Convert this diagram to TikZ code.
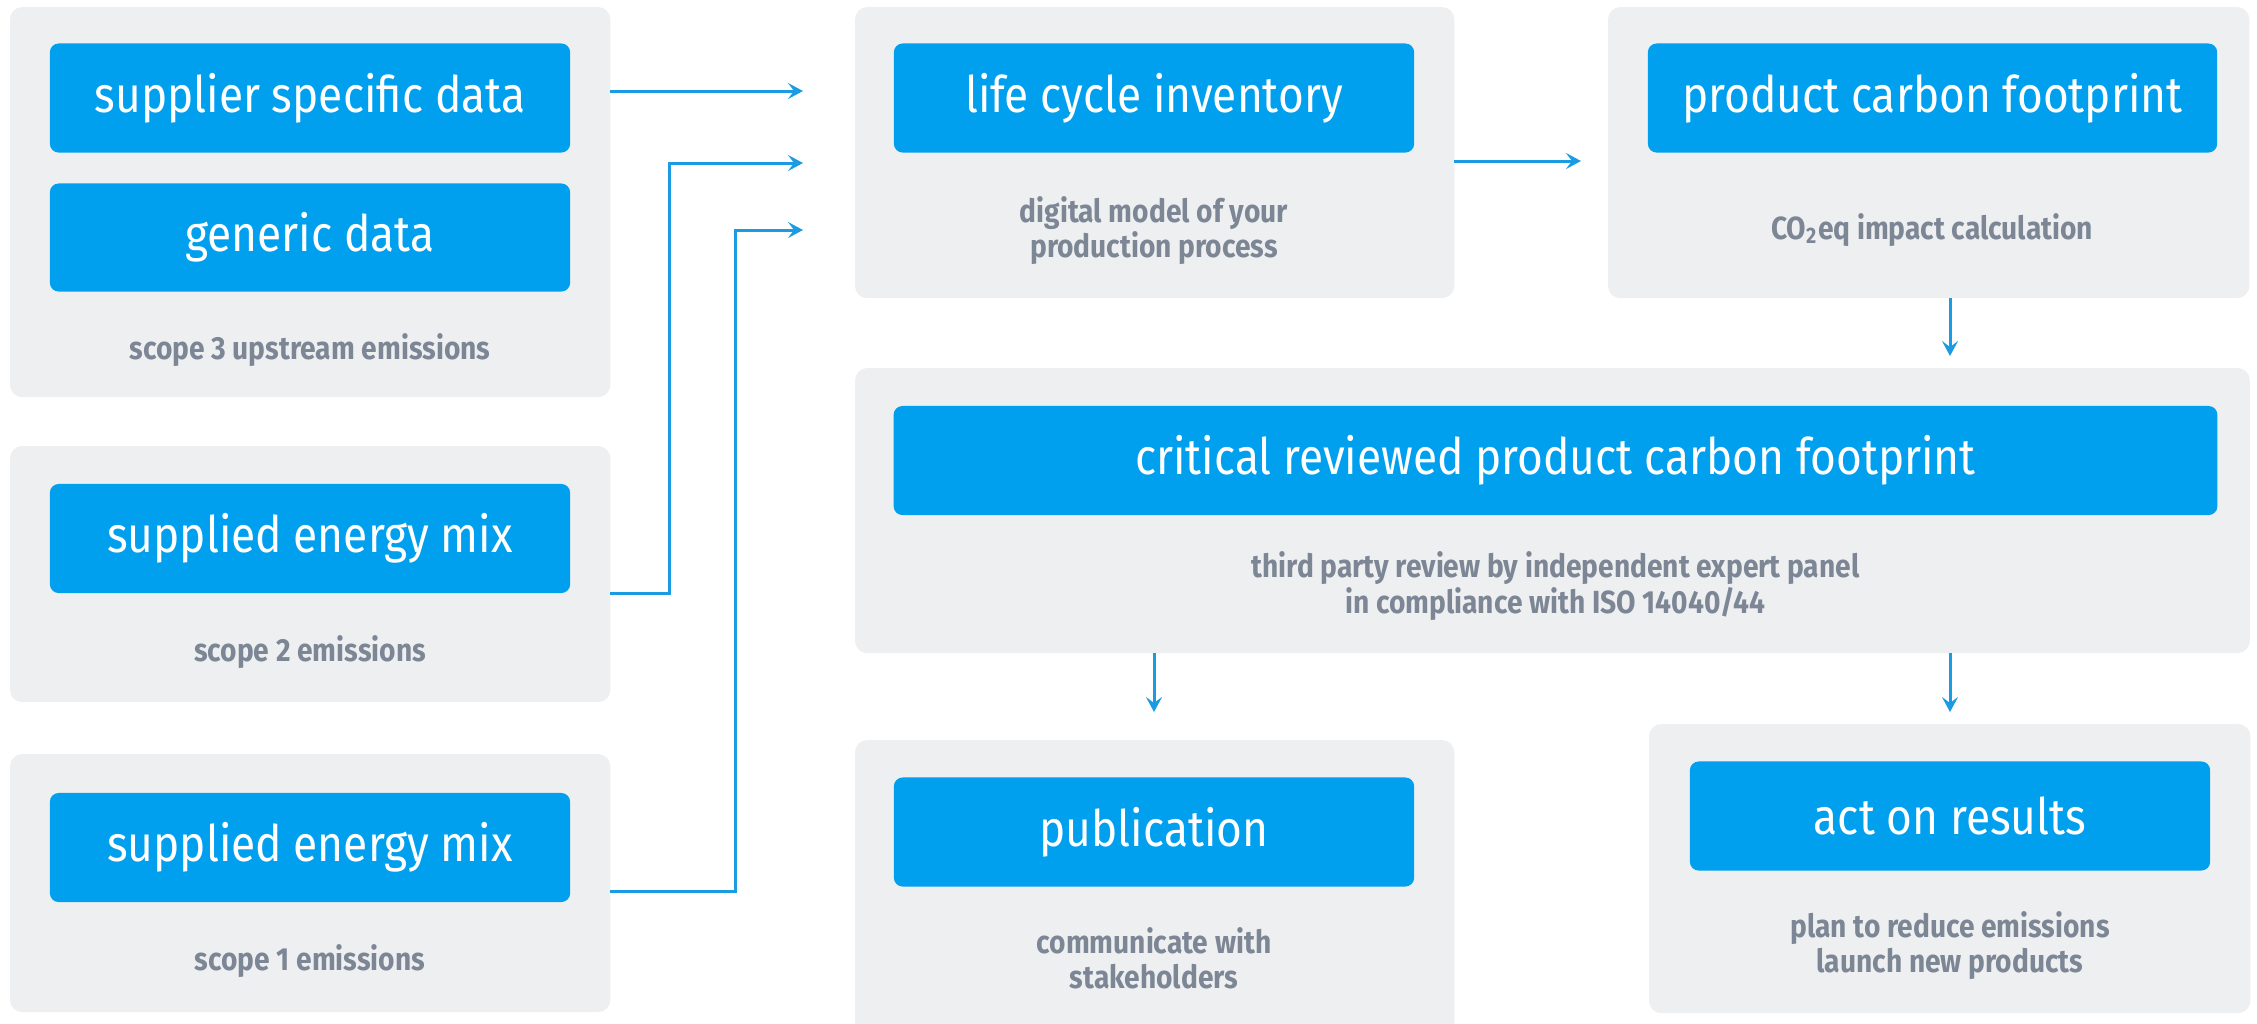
\documentclass[tikz,border=0pt]{standalone}
\usepackage{fontspec}
\setmainfont{Fira Sans}[FakeStretch=0.88]
\usetikzlibrary{arrows.meta,calc,positioning}
\definecolor{PBlue}{HTML}{00A0EF}
\definecolor{PGrey}{HTML}{EEEFF1}
\definecolor{PText}{HTML}{7C8695}
\definecolor{PLine}{HTML}{1A9BE2}
\tikzset{
    panel/.style = {fill=PGrey, rectangle, rounded corners=3.5pt,
        inner sep=0pt, outer sep=0pt, anchor=north west},
    block/.style = {fill=PBlue, rectangle, rounded corners=2.5pt,
        text=white, inner sep=0pt, outer sep=0pt,
        minimum height=1.09cm, minimum width=5.2cm,
        font=\fontsize{14.3}{16}\selectfont, align=center},
    note/.style = {text=PText, align=center,
        font=\fontsize{9.1}{10}\selectfont\bfseries},
    arrow/.style = {draw=PLine, line width=0.85pt,
        -{Stealth[length=1.5mm,width=1.6mm,inset=0.6mm]}}
}
\begin{document}
\begin{tikzpicture}[x=0.01cm, y=-0.01cm]
    \useasboundingbox (0,0) rectangle (2257,1023);
    \clip (0,0) rectangle (2257,1023);
    % grey panels
    \node [panel, minimum width=6cm, minimum height=3.9cm] (scope3) at (10,7) {};
    \node [panel, minimum width=6cm, minimum height=2.56cm] (scope2) at (10,446) {};
    \node [panel, minimum width=6cm, minimum height=2.58cm] (scope1) at (10,754) {};
    \node [panel, minimum width=5.99cm, minimum height=2.91cm] (lcip) at (855,7) {};
    \node [panel, minimum width=6.41cm, minimum height=2.91cm] (pcfp) at (1608,7) {};
    \node [panel, minimum width=13.94cm, minimum height=2.85cm] (critp) at (855,368) {};
    \node [panel, minimum width=5.99cm, minimum height=3.2cm] (pubp) at (855,740) {};
    \node [panel, minimum width=6.01cm, minimum height=2.89cm] (actp) at (1649,724) {};
    % blue blocks
    \node [block] (sup) at (310,98) {supplier specific data};
    \node [block, minimum height=1.08cm] (gen) at (310,237.5) {generic data};
    \node [block] (mix2) at (310,538.5) {supplied energy mix};
    \node [block] (mix1) at (310,847.5) {supplied energy mix};
    \node [block] (lci) at (1154,98) {life cycle inventory};
    \node [block, minimum width=5.69cm] (pcf) at (1932.5,98) {product carbon footprint};
    \node [block, minimum width=13.23cm] (crit) at (1555.5,460.5) {critical reviewed product carbon footprint};
    \node [block] (pub) at (1154,832) {publication};
    \node [block] (act) at (1950,816) {act on results};
    % grey captions
    \node [note] (n3) at (310,350) {scope 3 upstream emissions};
    \node [note] (n2) at (310,652) {scope 2 emissions};
    \node [note] (n1) at (310,961) {scope 1 emissions};
    \node [note] (nlci) at (1154,230.5) {digital model of your\\production process};
    \node [note] (npcf) at (1932,230) {CO\textsubscript{2}eq impact calculation};
    \node [note] (ncrit) at (1555.5,586) {third party review by independent expert panel\\in compliance with ISO 14040/44};
    \node [note] (npub) at (1154,958.5) {communicate with\\stakeholders};
    \node [note] (nact) at (1950,945.5) {plan to reduce emissions\\launch new products};
    % connectors
    \coordinate (in1) at (803,91);
    \coordinate (in2) at (803,163);
    \coordinate (in3) at (803,230);
    \draw [arrow] (scope3.east |- in1) -- (in1);
    \draw [arrow] (scope2.east |- mix2.south) -| ($(in2)-(134,0)$) -- (in2);
    \draw [arrow] ($(scope1.east |- mix1.south)-(0,11)$) -| ($(in3)-(68,0)$) -- (in3);
    \draw [arrow] (lcip.east |- 0,161) -- ($(pcfp.west |- 0,161)-(27,0)$);
    \draw [arrow] (pcfp.south -| act) -- ($(critp.north -| act)-(0,12)$);
    \draw [arrow] (critp.south -| pub) -- ($(pubp.north -| pub)-(0,28)$);
    \draw [arrow] (critp.south -| act) -- ($(actp.north -| act)-(0,12)$);
\end{tikzpicture}
\end{document}
